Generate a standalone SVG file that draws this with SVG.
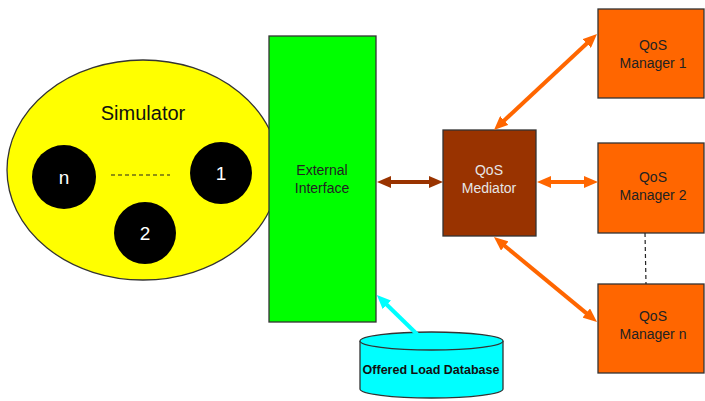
<svg xmlns="http://www.w3.org/2000/svg" width="705" height="401" viewBox="0 0 705 401">
<style>
text{font-family:"Liberation Sans",Arial,sans-serif;text-anchor:middle}
.lbl{font-size:14px;fill:#222}
.mgr{fill:#FF6600;stroke:#333;stroke-width:1.3}
.num{font-size:19px;fill:#fff}
.orange{stroke:#FF6600;stroke-width:4;fill:none;marker-start:url(#ho);marker-end:url(#ho)}
</style>
<defs>
<marker id="ho" viewBox="0 0 14 12" refX="4" refY="6" markerWidth="14" markerHeight="12" markerUnits="userSpaceOnUse" orient="auto-start-reverse"><path d="M0,0 L14,6 L0,12 z" fill="#FF6600"/></marker>
<marker id="hb" viewBox="0 0 14 12" refX="4" refY="6" markerWidth="14" markerHeight="12" markerUnits="userSpaceOnUse" orient="auto-start-reverse"><path d="M0,0 L14,6 L0,12 z" fill="#993300"/></marker>
<marker id="hc" viewBox="0 0 14 12" refX="4" refY="6" markerWidth="14" markerHeight="12" markerUnits="userSpaceOnUse" orient="auto"><path d="M0,0 L14,6 L0,12 z" fill="#00FFFF"/></marker>
</defs>
<rect width="705" height="401" fill="#fff"/>
<g id="simulator">
<ellipse cx="143" cy="170" rx="136" ry="110" fill="#FFFF00" stroke="#333" stroke-width="1.3"/>
<text x="143" y="120" style="font-size:20px;fill:#111">Simulator</text>
<line x1="111" y1="175" x2="170" y2="175" stroke="#222" stroke-width="1.2" stroke-dasharray="4,3"/>
</g>
<g id="node-n"><circle cx="64" cy="177" r="32" fill="#000"/><text class="num" x="64" y="184">n</text></g>
<g id="node-1"><circle cx="221" cy="173" r="31" fill="#000"/><text class="num" x="221" y="180">1</text></g>
<g id="node-2"><circle cx="145" cy="233" r="31" fill="#000"/><text class="num" x="145" y="240">2</text></g>
<g id="external-interface">
<rect x="269" y="36" width="107" height="286" fill="#00FF00" stroke="#333" stroke-width="1.3"/>
<text class="lbl" x="322" y="175">External</text>
<text class="lbl" x="322" y="193">Interface</text>
</g>
<g id="qos-mediator">
<rect x="443" y="130" width="93" height="106" fill="#993300" stroke="#333" stroke-width="1.3"/>
<text class="lbl" x="489" y="175" style="fill:#e6e6e6">QoS</text>
<text class="lbl" x="489" y="193" style="fill:#e6e6e6">Mediator</text>
</g>
<g id="qos-manager-1">
<rect class="mgr" x="598" y="9" width="106" height="89"/>
<text class="lbl" x="653" y="50">QoS</text>
<text class="lbl" x="653" y="68">Manager 1</text>
</g>
<g id="qos-manager-2">
<rect class="mgr" x="598" y="143" width="106" height="90"/>
<text class="lbl" x="653" y="182">QoS</text>
<text class="lbl" x="653" y="200">Manager 2</text>
</g>
<g id="qos-manager-n">
<rect class="mgr" x="598" y="284" width="106" height="89"/>
<text class="lbl" x="653" y="321">QoS</text>
<text class="lbl" x="653" y="339">Manager n</text>
</g>
<g id="offered-load-database">
<path d="M360,341 L360,389 A71.5,9 0 0 0 503,389 L503,341" fill="#00FFFF" stroke="#333" stroke-width="1.3"/>
<ellipse cx="431.5" cy="341" rx="71.5" ry="9" fill="#00FFFF" stroke="#333" stroke-width="1.3"/>
<text x="431" y="374" style="font-size:12.5px;font-weight:bold;fill:#111">Offered Load Database</text>
</g>
<g id="connectors">
<line x1="387" y1="182" x2="433" y2="182" stroke="#993300" stroke-width="4" marker-start="url(#hb)" marker-end="url(#hb)"/>
<line class="orange" x1="547" y1="182" x2="588" y2="182"/>
<line class="orange" x1="501.3" y1="123.2" x2="589.7" y2="40.8"/>
<line class="orange" x1="501.7" y1="243.4" x2="589.3" y2="315.6"/>
<line x1="423" y1="340" x2="384" y2="302" stroke="#00FFFF" stroke-width="4" marker-end="url(#hc)"/>
<line x1="645" y1="233" x2="646" y2="284" stroke="#222" stroke-width="1.2" stroke-dasharray="4,3"/>
</g>
</svg>
